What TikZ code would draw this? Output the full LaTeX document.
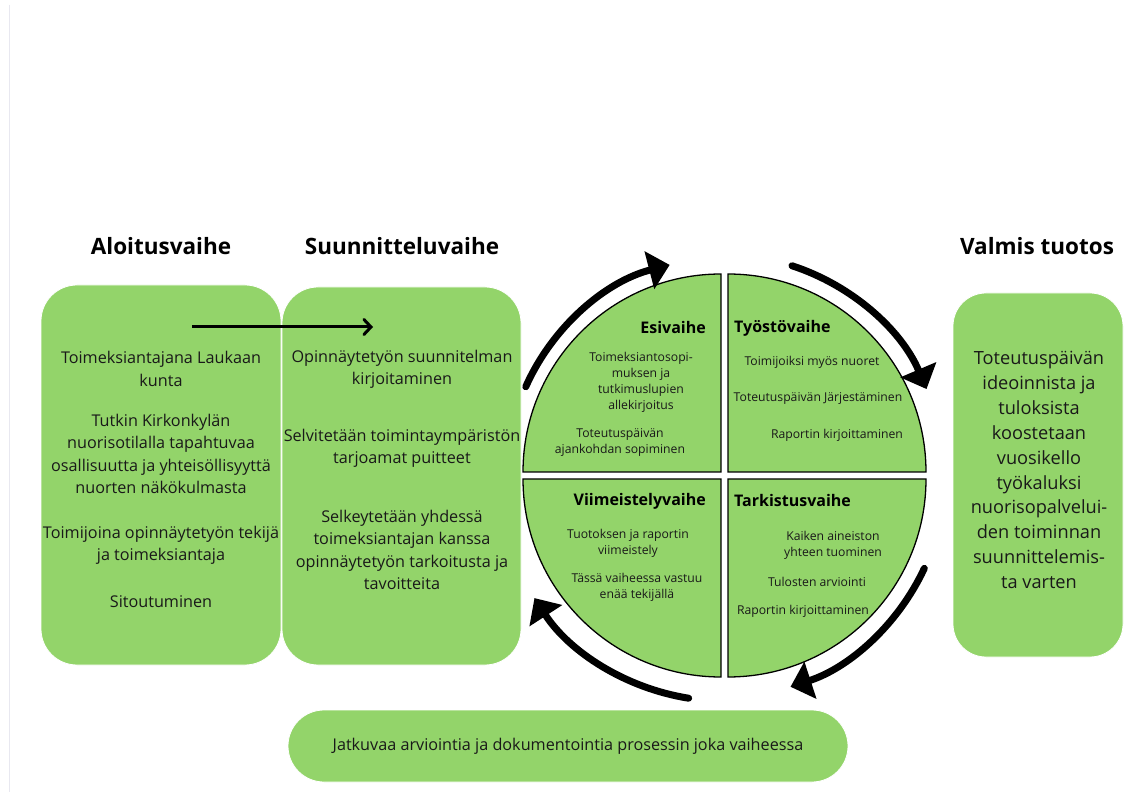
\documentclass[tikz,border=0pt]{standalone}
\usepackage{fontspec}
\setmainfont{Open Sans}
\usetikzlibrary{arrows.meta}
\definecolor{grn}{RGB}{147,212,106}
\definecolor{txt}{RGB}{25,25,25}
\definecolor{faint}{RGB}{232,232,240}
\begin{document}
\begin{tikzpicture}[x=1pt,y=1pt,
  box/.style={fill=grn, draw=white, line width=0.8pt, inner sep=0pt},
  quad/.style={fill=grn, draw=black, line width=1.3pt},
  title/.style={font=\fontsize{22.5}{26}\selectfont\bfseries, text=black, inner sep=0pt},
  body/.style={font=\fontsize{16.2}{22.3}\selectfont, text=txt, align=center, inner sep=0pt},
  vbody/.style={font=\fontsize{18.2}{24.9}\selectfont, text=txt, align=center, inner sep=0pt},
  qhead/.style={font=\fontsize{16}{19}\selectfont\bfseries, text=black, inner sep=0pt},
  qbody/.style={font=\fontsize{12.2}{16}\selectfont, text=txt, align=center, inner sep=0pt},
  cyc/.style={line width=7pt, line cap=round, -{Triangle[length=21pt,width=38pt]}},
]
\path[use as bounding box, fill=white] (0,0) rectangle (1141,796);
\draw[faint, line width=1.5pt] (9.5,791) -- (9.5,4);

% titles
\node[title] (t1) at (161,550) {Aloitusvaihe};
\node[title] (t2) at (402,550) {Suunnitteluvaihe};
\node[title] (t3) at (1037,550) {Valmis tuotos};

% boxes
\node[box, rounded corners=36pt, minimum width=240pt, minimum height=380pt] (alo) at (161,321) {};
\node[box, rounded corners=36pt, minimum width=239pt, minimum height=378pt] (suu) at (401.5,320) {};
\node[box, rounded corners=33pt, minimum width=170pt, minimum height=364pt] (val) at (1038,321) {};
\node[box, rounded corners=36pt, minimum width=560pt, minimum height=72pt,
      font=\fontsize{16.2}{20}\selectfont, text=txt] (jat) at (568,50)
      {\raisebox{3pt}{Jatkuvaa arviointia ja dokumentointia prosessin joka vaiheessa}};

% arrow between left boxes
\coordinate (la) at (192,469);
\coordinate (lb) at (373,469);
\draw[line width=3pt, -{Straight Barb[length=7pt,width=15pt,line cap=round]}] (la) -- (lb);

% left box text
\node[body] (a1) at (161,427) {Toimeksiantajana Laukaan\\kunta};
\node[body] (a2) at (161,342) {Tutkin Kirkonkylän\\nuorisotilalla tapahtuvaa\\osallisuutta ja yhteisöllisyyttä\\nuorten näkökulmasta};
\node[body] (a3) at (161,251) {Toimijoina opinnäytetyön tekijä\\ja toimeksiantaja};
\node[body] (a4) at (161,194) {Sitoutuminen};

\node[body] (s1) at (402,427) {Opinnäytetyön suunnitelman\\kirjoitaminen};
\node[body] (s2) at (402,348) {Selvitetään toimintaympäristön\\tarjoamat puitteet};
\node[body] (s3) at (402,246) {Selkeytetään yhdessä\\toimeksiantajan kanssa\\opinnäytetyön tarkoitusta ja\\tavoitteita};

\node[vbody] (v1) at (1039,326) {Toteutuspäivän\\ideoinnista ja\\tuloksista\\koostetaan\\vuosikello\\työkaluksi\\nuorisopalvelui-\\den toiminnan\\suunnittelemis-\\ta varten};

% quadrants
\draw[quad] (721,324) -- (523,324) arc[start angle=180, end angle=90, radius=198pt] -- cycle;
\draw[quad] (728,324) -- (728,522) arc[start angle=90, end angle=0, radius=198pt] -- cycle;
\draw[quad] (721,317) -- (523,317) arc[start angle=180, end angle=270, radius=198pt] -- cycle;
\draw[quad] (728,317) -- (926,317) arc[start angle=0, end angle=-90, radius=198pt] -- cycle;

% quadrant texts
\node[qhead, anchor=east] (h1) at (706,468) {Esivaihe};
\node[qbody] (e1) at (641,414) {Toimeksiantosopi-\\muksen ja\\tutkimuslupien\\allekirjoitus};
\node[qbody] (e2) at (620,354) {Toteutuspäivän\\ajankohdan sopiminen};

\node[qhead, anchor=west] (h2) at (734,468) {Työstövaihe};
\node[qbody] (w1) at (812,434) {Toimijoiksi myös nuoret};
\node[qbody] (w2) at (818,398) {Toteutuspäivän Järjestäminen};
\node[qbody] (w3) at (837,361) {Raportin kirjoittaminen};

\node[qhead, anchor=east] (h3) at (706,295) {Viimeistelyvaihe};
\node[qbody] (m1) at (628,253) {Tuotoksen ja raportin\\viimeistely};
\node[qbody] (m2) at (637,209) {Tässä vaiheessa vastuu\\enää tekijällä};

\node[qhead, anchor=west] (h4) at (734,295) {Tarkistusvaihe};
\node[qbody] (k1) at (833,251) {Kaiken aineiston\\yhteen tuominen};
\node[qbody] (k2) at (817,214) {Tulosten arviointi};
\node[qbody] (k3) at (803,185) {Raportin kirjoittaminen};

% cycle arrows
\coordinate (C) at (724,321);
\draw[cyc] ([shift={(156:217pt)}]C) arc[start angle=156, end angle=104.5, radius=217pt];
\draw[cyc] ([shift={(72:220pt)}]C) arc[start angle=72, end angle=23, radius=220pt];
\draw[cyc] ([shift={(-25:221pt)}]C) arc[start angle=-25, end angle=-72, radius=224pt];
\draw[cyc] ([shift={(-99:226pt)}]C) arc[start angle=-99, end angle=-147, radius=226pt];
\end{tikzpicture}
\end{document}
